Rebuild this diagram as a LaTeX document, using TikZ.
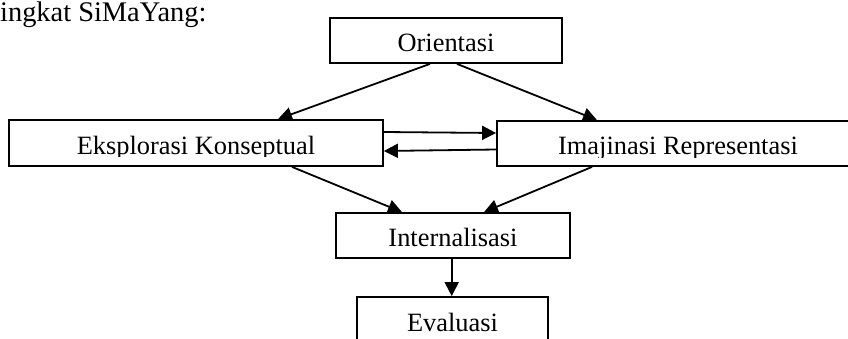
\documentclass[tikz,border=0pt]{standalone}
\usepackage{fontspec}
\setmainfont{Liberation Serif}
\usetikzlibrary{arrows.meta}
\newcommand\bxfont{\fontsize{26.4pt}{30pt}\selectfont}
\newcommand\ttlfont{\fontsize{28.4pt}{32pt}\selectfont}
\begin{document}
\begin{tikzpicture}[x=1pt,y=-1pt,
  box/.style={draw, line width=1.8pt, rectangle, inner sep=0pt, minimum height=45pt, minimum width=#1},
  lbl/.style={anchor=base, inner sep=0pt, font=\bxfont},
  conn/.style={line width=1.8pt, -{Triangle[length=14pt, width=14pt]}}
]
\useasboundingbox (0,0) rectangle (848,338);
\fill[white] (0,0) rectangle (848,338);
\clip (0,0) rectangle (848,338);

\node[anchor=base west, inner sep=0pt, font=\ttlfont] (title) at (0,21) {ingkat SiMaYang:};

\node[box=232pt] (ori) at (446,40.5) {};
\node[box=374pt, minimum height=46pt] (eks) at (196,143) {};
\node[box=362pt] (ima) at (678,143.5) {};
\node[box=234pt] (int) at (453,235.5) {};
\node[box=191pt] (eva) at (452.5,319.5) {};

\node[lbl] (orit) at ([yshift=-34pt]ori.north) {Orientasi};
\begin{scope}
  \clip ([yshift=-1pt]eks.north west) rectangle ([yshift=-37.3pt]eks.north east);
  \node[lbl] (ekst) at ([yshift=-35pt]eks.north) {Eksplorasi Konseptual};
\end{scope}
\begin{scope}
  \clip ([yshift=-1pt]ima.north west) rectangle ([yshift=-37pt]ima.north east);
  \node[lbl] (imat) at ([yshift=-34.5pt]ima.north) {Imajinasi Representasi};
\end{scope}
\node[lbl] (intt) at ([yshift=-34pt]int.north) {Internalisasi};
\node[lbl] (evat) at ([yshift=-35pt]eva.north) {Evaluasi};

\draw[conn] ([xshift=-16pt]ori.south) -- ([xshift=82pt]eks.north);
\draw[conn] ([xshift=11pt]ori.south) -- ([xshift=-81pt]ima.north);
\draw[conn] ([yshift=11pt]eks.east) -- ([yshift=10.5pt]ima.west);
\draw[conn] ([yshift=-6pt]ima.west) -- ([yshift=-8pt]eks.east);
\draw[conn] ([xshift=96pt]eks.south) -- ([xshift=-51pt]int.north);
\draw[conn] ([xshift=-86pt]ima.south) -- ([xshift=31pt]int.north);
\draw[conn] ([xshift=-1.3pt]int.south) -- ([xshift=-0.8pt]eva.north);
\end{tikzpicture}
\end{document}
